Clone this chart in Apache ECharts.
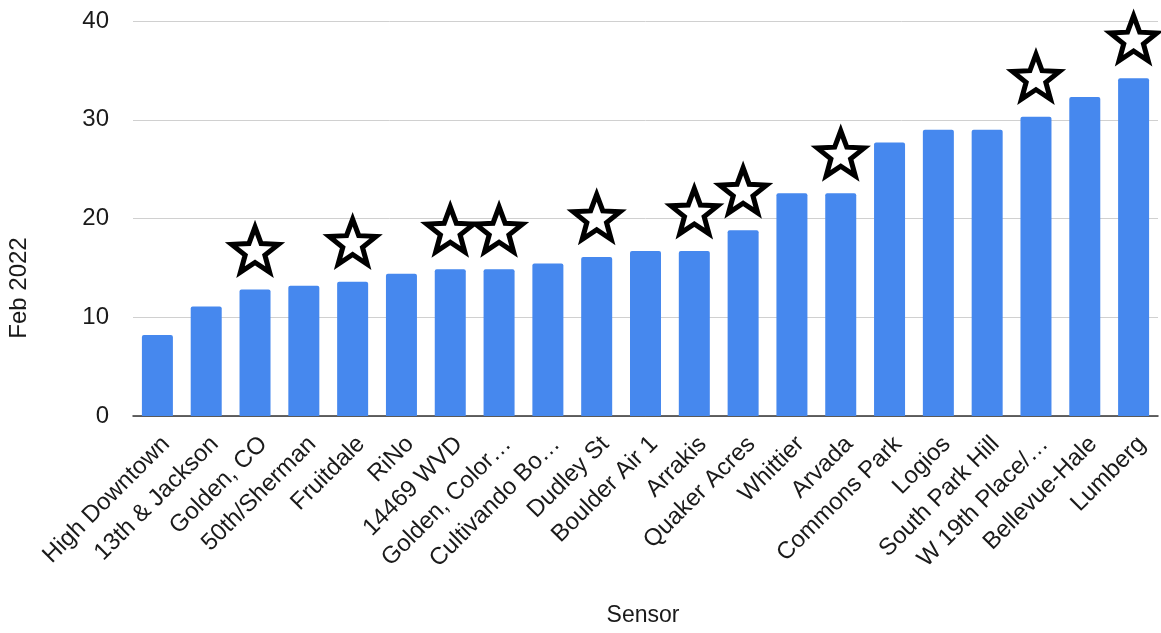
<!DOCTYPE html>
<html lang="en">
<head>
    <meta charset="UTF-8">
    <title>Feb 2022 by Sensor</title>
    <script src="https://cdn.jsdelivr.net/npm/echarts@6/dist/echarts.min.js"></script>
    <style>
        html, body { margin: 0; padding: 0; background: #fff; }
        #chart { width: 1161px; height: 633px; }
    </style>
</head>
<body>
    <div id="chart"></div>

    <script>
        var sensors = ['High Downtown', '13th & Jackson', 'Golden, CO', '50th/Sherman', 'Fruitdale', 'RiNo',
            '14469 WVD', 'Golden, Color…', 'Cultivando Bo…', 'Dudley St', 'Boulder Air 1', 'Arrakis',
            'Quaker Acres', 'Whittier', 'Arvada', 'Commons Park', 'Logios', 'South Park Hill',
            'W 19th Place/…', 'Bellevue-Hale', 'Lumberg'];
        var feb2022 = [8.2, 11.1, 12.8, 13.2, 13.6, 14.4, 14.85, 14.85, 15.45, 16.1, 16.7, 16.7,
            18.8, 22.55, 22.55, 27.7, 29.0, 29.0, 30.3, 32.3, 34.2];
        var starred = [false, false, true, false, true, false, true, true, false, true, false, true,
            true, false, true, false, false, false, true, false, true];
        var yTicks = [0, 10, 20, 30, 40];

        var font = '"Liberation Sans", Arial, sans-serif';
        // 5-point star, inner radius ~0.42 of outer
        var starPath = 'path://M50 0 L62.34 33.01 L97.55 34.55 L69.97 56.49 L79.39 90.45 L50 71 L20.61 90.45 L30.03 56.49 L2.45 34.55 L37.66 33.01 Z';

        var starData = feb2022.map(function (v, i) {
            return starred[i] ? v : '-';
        });

        var chart = echarts.init(document.getElementById('chart'));
        chart.setOption({
            animation: false,
            grid: { left: 133, right: 3, top: 21, bottom: 217 },
            xAxis: {
                type: 'category',
                data: sensors,
                axisTick: { show: false },
                axisLine: { lineStyle: { color: '#333', width: 1.5 } },
                axisLabel: {
                    interval: 0,
                    rotate: 45,
                    margin: 16,
                    verticalAlign: 'top',
                    color: '#1a1a1a',
                    fontSize: 24,
                    fontFamily: font
                }
            },
            yAxis: {
                type: 'value',
                min: yTicks[0],
                max: yTicks[yTicks.length - 1],
                interval: 10,
                axisLine: { show: false },
                axisTick: { show: false },
                splitLine: { lineStyle: { color: '#d0d0d0', width: 1 } },
                axisLabel: {
                    margin: 24,
                    color: '#1a1a1a',
                    fontSize: 24,
                    fontFamily: font
                }
            },
            graphic: [
                {
                    type: 'text',
                    x: 19, y: 288,
                    rotation: Math.PI / 2,
                    style: {
                        text: 'Feb 2022',
                        fill: '#1a1a1a',
                        font: '24px ' + font,
                        align: 'center',
                        verticalAlign: 'middle'
                    }
                },
                {
                    type: 'text',
                    x: 643, y: 616,
                    style: {
                        text: 'Sensor',
                        fill: '#1a1a1a',
                        font: '23px ' + font,
                        align: 'center',
                        verticalAlign: 'middle'
                    }
                }
            ],
            series: [
                {
                    name: 'Feb 2022',
                    type: 'bar',
                    data: feb2022,
                    barWidth: 31,
                    itemStyle: { color: '#4688EE', borderRadius: [2, 2, 0, 0] }
                },
                {
                    name: 'star',
                    type: 'scatter',
                    data: starData,
                    symbol: starPath,
                    symbolSize: [47, 45],
                    symbolOffset: [0, -40],
                    z: 5,
                    itemStyle: {
                        color: '#fff',
                        borderColor: '#000',
                        borderWidth: 5,
                        borderJoin: 'miter',
                        opacity: 1
                    }
                }
            ]
        });
    </script>
</body>
</html>
